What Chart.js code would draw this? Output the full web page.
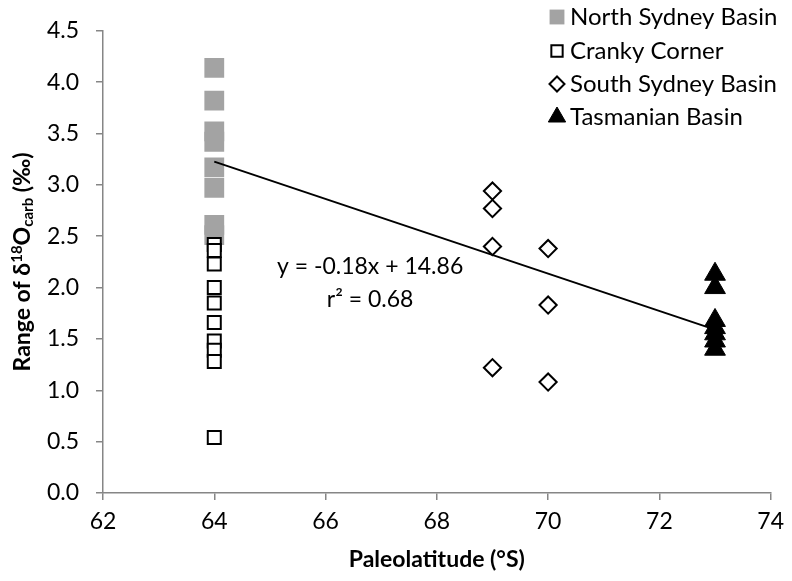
<!DOCTYPE html>
<html>
<head>
<meta charset="utf-8">
<script src="https://cdn.jsdelivr.net/npm/chart.js@4.4.1/dist/chart.umd.min.js"></script>
<style>
  html, body { margin: 0; padding: 0; background: #fff; }
  #wrap { width: 792px; height: 581px; }
</style>
</head>
<body>
<div id="wrap"><canvas id="rangeChart"></canvas></div>
<script>
// Paleolatitude (°S) of each locality
const NSB_LAT = 64;
const CC_LAT = 64;
const SSB_LAT = [69, 69, 69, 69, 70, 70, 70];
const TAS_LAT = 73;

// Range of d18O carb (permil) per sample set
const NSB_RANGE = [4.14, 3.82, 3.52, 3.42, 3.17, 2.97, 2.61, 2.51];
const CC_RANGE = [2.42, 2.36, 2.23, 2.00, 1.85, 1.66, 1.48, 1.39, 1.28, 0.54];
const SSB_RANGE = [2.94, 2.77, 2.40, 1.22, 2.38, 1.83, 1.08];
const TAS_RANGE = [2.13, 2.00, 1.68, 1.61, 1.55, 1.48, 1.40];

const SERIES_NAMES = ['North Sydney Basin', 'Cranky Corner', 'South Sydney Basin', 'Tasmanian Basin'];
const X_TICKS = [62, 64, 66, 68, 70, 72, 74];
const Y_TICKS = [0, 0.5, 1, 1.5, 2, 2.5, 3, 3.5, 4, 4.5];
const R_SQUARED = 0.68;

const FONT = 'Lato, "DejaVu Sans", sans-serif';
const AXIS_GREY = '#868686';

function pts(lat, values) {
  return values.map((v, i) => ({ x: Array.isArray(lat) ? lat[i] : lat, y: v }));
}

const nsb = pts(NSB_LAT, NSB_RANGE);
const cc = pts(CC_LAT, CC_RANGE);
const ssb = pts(SSB_LAT, SSB_RANGE);
const tas = pts(TAS_LAT, TAS_RANGE);

// least squares fit over the basins (Cranky Corner left out)
const fitPts = nsb.concat(ssb, tas);
const n = fitPts.length;
const mx = fitPts.reduce((s, p) => s + p.x, 0) / n;
const my = fitPts.reduce((s, p) => s + p.y, 0) / n;
let sxx = 0, sxy = 0;
fitPts.forEach(p => { sxx += (p.x - mx) ** 2; sxy += (p.x - mx) * (p.y - my); });
const slope = sxy / sxx;
const intercept = my - slope * mx;
const xMin = Math.min(...fitPts.map(p => p.x));
const xMax = Math.max(...fitPts.map(p => p.x));
const trend = [xMin, xMax].map(x => ({ x: x, y: slope * x + intercept }));

const styles = [
  { pointStyle: 'rect', radius: 14, bg: '#a3a3a3', border: '#a3a3a3', bw: 0, legendR: 10.5 },
  { pointStyle: 'rect', radius: 9.2, bg: '#ffffff', border: '#000000', bw: 2, legendR: 8 },
  { pointStyle: 'rectRot', radius: 8.6, bg: '#ffffff', border: '#000000', bw: 2, legendR: 7.5 },
  { pointStyle: 'triangle', radius: 12, bg: '#000000', border: '#000000', bw: 1, legendR: 10 }
];

function series(i, data) {
  const s = styles[i];
  return {
    label: SERIES_NAMES[i],
    data: data,
    pointStyle: s.pointStyle,
    pointRadius: s.radius,
    pointHoverRadius: s.radius,
    backgroundColor: s.bg,
    borderColor: s.border,
    borderWidth: s.bw,
    order: 4 - i
  };
}

// trendline equation text, legend, and the rotated y title with sup/sub script
const annotate = {
  id: 'annotate',
  afterDraw(chart) {
    const ctx = chart.ctx;
    const xs = chart.scales.x, ys = chart.scales.y;

    ctx.save();
    ctx.fillStyle = '#000';
    ctx.font = '23px ' + FONT;
    ctx.textAlign = 'center';
    ctx.textBaseline = 'middle';
    const sign = intercept >= 0 ? '+' : '-';
    const ex = xs.getPixelForValue(66.8);
    const ey = ys.getPixelForValue(2.2);
    ctx.fillText('y = ' + slope.toFixed(2) + 'x ' + sign + ' ' + Math.abs(intercept).toFixed(2), ex, ey);
    ctx.fillText('r\u00b2 = ' + R_SQUARED.toFixed(2), ex, ey + 33);
    ctx.restore();

    // legend
    ctx.save();
    ctx.font = '24px ' + FONT;
    ctx.textBaseline = 'middle';
    ctx.textAlign = 'left';
    const rows = [17, 51, 84, 117];
    styles.forEach((s, i) => {
      ctx.fillStyle = s.bg;
      ctx.strokeStyle = s.border;
      ctx.lineWidth = s.bw;
      Chart.helpers.drawPoint(ctx, { pointStyle: s.pointStyle, radius: s.legendR, rotation: 0, borderWidth: s.bw }, 557, rows[i]);
      ctx.fillStyle = '#000';
      ctx.fillText(SERIES_NAMES[i], 570, rows[i]);
    });
    ctx.restore();

    // y axis title
    const parts = [
      { t: 'Range of \u03b4', size: 23, dy: 0 },
      { t: '18', size: 15, dy: -8 },
      { t: 'O', size: 23, dy: 0 },
      { t: 'carb', size: 15, dy: 3 },
      { t: ' (\u2030)', size: 23, dy: 0 }
    ];
    ctx.save();
    ctx.translate(22, (chart.chartArea.top + chart.chartArea.bottom) / 2);
    ctx.rotate(-Math.PI / 2);
    ctx.fillStyle = '#000';
    ctx.textBaseline = 'alphabetic';
    let total = 0;
    parts.forEach(p => {
      ctx.font = 'bold ' + p.size + 'px ' + FONT;
      p.w = ctx.measureText(p.t).width;
      total += p.w;
    });
    let cx = -total / 2;
    parts.forEach(p => {
      ctx.font = 'bold ' + p.size + 'px ' + FONT;
      ctx.fillText(p.t, cx, 8 + p.dy);
      cx += p.w;
    });
    ctx.restore();
  }
};

new Chart(document.getElementById('rangeChart'), {
  type: 'scatter',
  data: {
    datasets: [
      series(0, nsb),
      series(1, cc),
      series(2, ssb),
      series(3, tas),
      {
        label: 'trend',
        type: 'line',
        data: trend,
        borderColor: '#000',
        borderWidth: 2,
        pointRadius: 0,
        fill: false,
        order: 0
      }
    ]
  },
  options: {
    responsive: true,
    maintainAspectRatio: false,
    animation: false,
    layout: { padding: { top: 30, right: 12, bottom: 0, left: 0 } },
    plugins: {
      legend: { display: false },
      tooltip: { enabled: false }
    },
    scales: {
      x: {
        type: 'linear',
        min: X_TICKS[0],
        max: X_TICKS[X_TICKS.length - 1],
        afterBuildTicks: axis => { axis.ticks = X_TICKS.map(v => ({ value: v })); },
        afterFit: axis => { axis.height = 88; },
        grid: { drawOnChartArea: false, drawTicks: true, tickLength: 7, color: AXIS_GREY, lineWidth: 1.5 },
        border: { color: AXIS_GREY, width: 1.5 },
        ticks: { color: '#000', padding: 8, font: { family: FONT, size: 23 } },
        title: {
          display: true,
          text: 'Paleolatitude (\u00b0S)',
          color: '#000',
          padding: { top: 0, bottom: 8 },
          font: { family: FONT, size: 23, weight: 'bold' }
        }
      },
      y: {
        min: Y_TICKS[0],
        max: Y_TICKS[Y_TICKS.length - 1],
        afterBuildTicks: axis => { axis.ticks = Y_TICKS.map(v => ({ value: v })); },
        afterFit: axis => { axis.width = 103; },
        grid: { drawOnChartArea: false, drawTicks: true, tickLength: 7, color: AXIS_GREY, lineWidth: 1.5 },
        border: { color: AXIS_GREY, width: 1.5 },
        ticks: {
          color: '#000',
          padding: 17,
          font: { family: FONT, size: 23 },
          callback: v => v.toFixed(1)
        }
      }
    }
  },
  plugins: [annotate]
});
</script>
</body>
</html>
